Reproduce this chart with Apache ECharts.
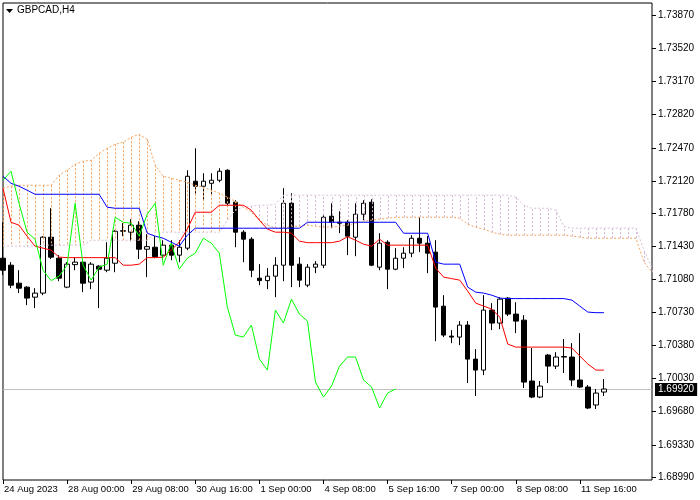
<!DOCTYPE html>
<html>
<head>
<meta charset="utf-8">
<script src="https://cdn.jsdelivr.net/npm/echarts@6/dist/echarts.min.js"></script>
<style>
  html, body { margin: 0; padding: 0; background: #fff; }
  #chart { width: 700px; height: 500px; }
</style>
</head>
<body>
<div id="chart"></div>
<script>
// GBPCAD H4, 24 Aug - 12 Sep 2023, Ichimoku
const symbolTitle = 'GBPCAD,H4';
const xTickLabels = ['24 Aug 2023', '28 Aug 00:00', '29 Aug 08:00', '30 Aug 16:00', '1 Sep 00:00',
  '4 Sep 08:00', '5 Sep 16:00', '7 Sep 00:00', '8 Sep 08:00', '11 Sep 16:00'];
const yTicks = [1.68990, 1.69330, 1.69680, 1.70030, 1.70380, 1.70730, 1.71080, 1.71430,
  1.71780, 1.72120, 1.72470, 1.72820, 1.73170, 1.73520, 1.73870];
const lastPrice = 1.69920;

const opens = [
  1.71303, 1.71229, 1.71039, 1.70997, 1.70891, 1.70934, 1.71525, 1.71303, 1.70997, 1.71235,
  1.71261, 1.71050, 1.71219, 1.71176, 1.71250, 1.71588, 1.71578, 1.71652, 1.71398, 1.71419,
  1.71335, 1.71441, 1.71335, 1.71409, 1.72117, 1.72064, 1.72095, 1.72127, 1.72233, 1.71895,
  1.71578, 1.71504, 1.71092, 1.71066, 1.71113, 1.71229, 1.71884, 1.71240, 1.71018, 1.71208,
  1.71229, 1.71747, 1.71683, 1.71683, 1.71525, 1.71768, 1.71895, 1.71208, 1.71472, 1.71187,
  1.71303, 1.71356, 1.71514, 1.71462, 1.71367, 1.70796, 1.70479, 1.70469, 1.70596, 1.70236,
  1.70120, 1.70754, 1.70617, 1.70881, 1.70712, 1.70648, 1.70004, 1.69835, 1.70279, 1.70162,
  1.70263, 1.70258, 1.70015, 1.69941, 1.69751, 1.69888
];
const closes = [
  1.71176, 1.71018, 1.70986, 1.70881, 1.70934, 1.71525, 1.71314, 1.71092, 1.71240, 1.71261,
  1.71039, 1.71240, 1.71187, 1.71303, 1.71588, 1.71594, 1.71652, 1.71398, 1.71425, 1.71319,
  1.71441, 1.71335, 1.71419, 1.72169, 1.72064, 1.72117, 1.72127, 1.72222, 1.71884, 1.71578,
  1.71504, 1.71176, 1.71066, 1.71113, 1.71229, 1.71884, 1.71229, 1.71071, 1.71208, 1.71240,
  1.71736, 1.71683, 1.71673, 1.71536, 1.71768, 1.71884, 1.71229, 1.71462, 1.71187, 1.71303,
  1.71356, 1.71514, 1.71462, 1.71356, 1.70786, 1.70490, 1.70469, 1.70596, 1.70236, 1.70120,
  1.70754, 1.70617, 1.70870, 1.70712, 1.70638, 1.69993, 1.69835, 1.69951, 1.70162, 1.70258,
  1.70258, 1.70015, 1.69941, 1.69719, 1.69877, 1.69920
];
const lows = [
  1.71124, 1.70986, 1.70934, 1.70807, 1.70775, 1.70912, 1.71293, 1.71060, 1.70986, 1.71176,
  1.70944, 1.70976, 1.70775, 1.71155, 1.71155, 1.71536, 1.71483, 1.71293, 1.71103, 1.71303,
  1.71282, 1.71282, 1.71261, 1.71388, 1.71969, 1.71916, 1.71979, 1.72106, 1.71863, 1.71419,
  1.71261, 1.71103, 1.71018, 1.70976, 1.70891, 1.71060, 1.70997, 1.70997, 1.70997, 1.71145,
  1.71198, 1.71620, 1.71567, 1.71335, 1.71324, 1.71705, 1.71219, 1.71176, 1.70976, 1.71176,
  1.71198, 1.71314, 1.71367, 1.71145, 1.70426, 1.70469, 1.70405, 1.70384, 1.69983, 1.69846,
  1.70067, 1.70543, 1.70553, 1.70691, 1.70511, 1.69930, 1.69824, 1.69824, 1.69983, 1.70131,
  1.70089, 1.69951, 1.69930, 1.69708, 1.69708, 1.69846
];
const highs = [
  1.71683, 1.71261, 1.71176, 1.71007, 1.70986, 1.71536, 1.71831, 1.71335, 1.71261, 1.71314,
  1.71282, 1.71261, 1.71229, 1.71472, 1.71599, 1.71673, 1.71715, 1.71694, 1.71557, 1.71536,
  1.71493, 1.71493, 1.71493, 1.72233, 1.72465, 1.72201, 1.72201, 1.72254, 1.72243, 1.71916,
  1.71599, 1.71525, 1.71240, 1.71198, 1.71314, 1.72043, 1.71990, 1.71314, 1.71240, 1.71272,
  1.71757, 1.71884, 1.71800, 1.71705, 1.71884, 1.71916, 1.71926, 1.71567, 1.71493, 1.71409,
  1.71419, 1.71546, 1.71736, 1.71536, 1.71493, 1.70912, 1.70543, 1.70638, 1.70638, 1.70342,
  1.70912, 1.70828, 1.70891, 1.70891, 1.70838, 1.70701, 1.70353, 1.70004, 1.70289, 1.70310,
  1.70448, 1.70405, 1.70511, 1.69962, 1.69920, 1.70025
];

// Ichimoku lines
const tenkan = [
  1.72043, 1.71683, 1.71652, 1.71536, 1.71430, 1.71409, 1.71388, 1.71314, 1.71309, 1.71309,
  1.71309, 1.71309, 1.71309, 1.71309, 1.71309, 1.71229, 1.71229, 1.71240, 1.71309, 1.71309,
  1.71314, 1.71388, 1.71472, 1.71610, 1.71789, 1.71789, 1.71789, 1.71863, 1.71863, 1.71863,
  1.71863, 1.71810, 1.71705, 1.71610, 1.71578, 1.71578, 1.71567, 1.71483, 1.71467, 1.71467,
  1.71467, 1.71467, 1.71483, 1.71530, 1.71493, 1.71451, 1.71430, 1.71504, 1.71441, 1.71441,
  1.71441, 1.71441, 1.71441, 1.71441, 1.71198, 1.71103, 1.71087, 1.71071, 1.70955, 1.70828,
  1.70796, 1.70765, 1.70680, 1.70395, 1.70363, 1.70363, 1.70363, 1.70363, 1.70363, 1.70363,
  1.70363, 1.70353, 1.70268, 1.70184, 1.70120, 1.70120
];
const kijun = [
  1.72169, 1.72095, 1.72064, 1.72022, 1.71979, 1.71979, 1.71979, 1.71979, 1.71979, 1.71979,
  1.71979, 1.71979, 1.71979, 1.71842, 1.71831, 1.71831, 1.71831, 1.71831, 1.71567, 1.71536,
  1.71514, 1.71472, 1.71430, 1.71546, 1.71620, 1.71620, 1.71620, 1.71620, 1.71620, 1.71620,
  1.71620, 1.71620, 1.71620, 1.71620, 1.71620, 1.71620, 1.71620, 1.71620, 1.71683, 1.71683,
  1.71683, 1.71683, 1.71683, 1.71683, 1.71683, 1.71683, 1.71683, 1.71683, 1.71683, 1.71683,
  1.71567, 1.71567, 1.71567, 1.71567, 1.71261, 1.71240, 1.71240, 1.71240, 1.70997, 1.70944,
  1.70934, 1.70912, 1.70881, 1.70876, 1.70876, 1.70876, 1.70876, 1.70876, 1.70876, 1.70876,
  1.70876, 1.70860, 1.70796, 1.70733, 1.70727, 1.70727
];
const chikou = [
  1.72127, 1.72222, 1.71884, 1.71578, 1.71504, 1.71176, 1.71066, 1.71113, 1.71229, 1.71884,
  1.71229, 1.71071, 1.71208, 1.71240, 1.71736, 1.71683, 1.71673, 1.71536, 1.71768, 1.71884,
  1.71229, 1.71462, 1.71187, 1.71303, 1.71356, 1.71514, 1.71462, 1.71356, 1.70786, 1.70490,
  1.70469, 1.70596, 1.70236, 1.70120, 1.70754, 1.70617, 1.70870, 1.70712, 1.70638, 1.69993,
  1.69835, 1.69951, 1.70162, 1.70258, 1.70258, 1.70015, 1.69941, 1.69719, 1.69877, 1.69920
];
const spanA = [
  1.72043, 1.72064, 1.72074, 1.72074, 1.72074, 1.72074, 1.72074, 1.72180, 1.72233, 1.72296,
  1.72328, 1.72338, 1.72412, 1.72465, 1.72507, 1.72529, 1.72581, 1.72613, 1.72560, 1.72286,
  1.72169, 1.72148, 1.72127, 1.72106, 1.72074, 1.72053, 1.72022, 1.71990, 1.71948, 1.71905,
  1.71842, 1.71789, 1.71705, 1.71652, 1.71620, 1.71620, 1.71641, 1.71641, 1.71652, 1.71641,
  1.71631, 1.71631, 1.71641, 1.71652, 1.71673, 1.71694, 1.71705, 1.71715, 1.71726, 1.71736,
  1.71736, 1.71736, 1.71736, 1.71736, 1.71736, 1.71736, 1.71736, 1.71726, 1.71662, 1.71631,
  1.71610, 1.71578, 1.71557, 1.71546, 1.71546, 1.71546, 1.71546, 1.71546, 1.71546, 1.71546,
  1.71546, 1.71536, 1.71525, 1.71514, 1.71514, 1.71514, 1.71514, 1.71514, 1.71514, 1.71514,
  1.71261, 1.71155
];
const spanB = [
  1.71430, 1.71430, 1.71430, 1.71430, 1.71430, 1.71441, 1.71441, 1.71441, 1.71441, 1.71441,
  1.71441, 1.71493, 1.71493, 1.71493, 1.71493, 1.71493, 1.71493, 1.71493, 1.71493, 1.71578,
  1.71578, 1.71578, 1.71578, 1.71578, 1.71578, 1.71578, 1.71578, 1.71578, 1.71705, 1.71810,
  1.71842, 1.71853, 1.71863, 1.71863, 1.71874, 1.71969, 1.71969, 1.71969, 1.71969, 1.71969,
  1.71969, 1.71969, 1.71969, 1.71969, 1.71969, 1.71969, 1.71969, 1.71969, 1.71969, 1.71969,
  1.71969, 1.71969, 1.71969, 1.71969, 1.71969, 1.71969, 1.71969, 1.71969, 1.71969, 1.71969,
  1.71969, 1.71969, 1.71969, 1.71969, 1.71948, 1.71863, 1.71831, 1.71831, 1.71831, 1.71810,
  1.71641, 1.71620, 1.71620, 1.71620, 1.71620, 1.71620, 1.71620, 1.71620, 1.71620, 1.71620,
  1.71388, 1.71198
];

const categories = spanA.map((_, i) => i);
const candles = opens.map((o, i) => [o, closes[i], lows[i], highs[i]]);
const cloud = spanA.map((a, i) => [i, a, spanB[i]]);
const isLabelIdx = (i) => i % 8 === 0 && i / 8 < xTickLabels.length;
const font = 'Liberation Sans, Arial, sans-serif';

const chart = echarts.init(document.getElementById('chart'));

const option = {
  animation: false,
  textStyle: { fontFamily: font },
  grid: {
    left: 3, right: 48, top: 3, bottom: 20,
    show: true, borderColor: '#000', borderWidth: 1, backgroundColor: '#fff'
  },
  xAxis: {
    type: 'category',
    data: categories,
    boundaryGap: false,
    axisLine: { show: false },
    axisTick: { show: true, interval: isLabelIdx, length: 4, lineStyle: { color: '#000' } },
    axisLabel: {
      interval: isLabelIdx,
      formatter: (v, i) => xTickLabels[i / 8],
      align: 'left',
      margin: 4,
      padding: [0, 0, 0, 1],
      fontSize: 9.5,
      color: '#000'
    },
    splitLine: { show: false }
  },
  yAxis: {
    type: 'value',
    position: 'right',
    min: 1.68958,
    max: 1.74001,
    axisLine: { show: false },
    axisTick: { show: true, customValues: yTicks, length: 4, lineStyle: { color: '#000' } },
    axisLabel: {
      customValues: yTicks,
      formatter: (v) => v.toFixed(5),
      fontSize: 10,
      color: '#000',
      margin: 6
    },
    splitLine: { show: false }
  },
  series: [
    {
      name: 'Senkou Span A',
      type: 'line',
      data: spanA,
      symbol: 'none',
      z: 3,
      lineStyle: { color: '#F4A460', width: 1, type: [2, 2] }
    },
    {
      name: 'Senkou Span B',
      type: 'line',
      data: spanB,
      symbol: 'none',
      z: 3,
      lineStyle: { color: '#D8BFD8', width: 1, type: [2, 2] }
    },
    {
      name: 'Candles',
      type: 'candlestick',
      data: candles,
      barWidth: 5,
      z: 2,
      itemStyle: {
        color: '#fff', color0: '#000',
        borderColor: '#000', borderColor0: '#000', borderWidth: 1
      }
    },
    {
      name: 'Kumo',
      type: 'custom',
      data: cloud,
      z: 3,
      encode: { x: 0, y: [1, 2] },
      renderItem: (params, api) => {
        const k = api.value(0);
        const a = api.value(1);
        const b = api.value(2);
        const p1 = api.coord([k, a]);
        const p2 = api.coord([k, b]);
        const x = Math.round(p1[0]) + 0.5;
        return {
          type: 'line',
          shape: { x1: x, y1: p1[1], x2: x, y2: p2[1] },
          style: { stroke: a >= b ? '#F4A460' : '#D0B4D0', lineWidth: 1, lineDash: [2, 2] }
        };
      }
    },
    {
      name: 'Tenkan-sen',
      type: 'line',
      data: tenkan,
      symbol: 'none',
      z: 4,
      lineStyle: { color: '#FF0000', width: 1 }
    },
    {
      name: 'Kijun-sen',
      type: 'line',
      data: kijun,
      symbol: 'none',
      z: 4,
      lineStyle: { color: '#0000FF', width: 1 }
    },
    {
      name: 'Chikou Span',
      type: 'line',
      data: chikou,
      symbol: 'none',
      z: 4,
      lineStyle: { color: '#00FF00', width: 1 }
    }
  ]
};

chart.setOption(option);

// bid line and price tag, placed through the y scale
const py = Math.round(chart.convertToPixel({ yAxisIndex: 0 }, lastPrice)) + 0.5;
const gridRect = chart.getModel().getComponent('grid').coordinateSystem.getRect();
chart.setOption({
  graphic: [
    { type: 'polygon', shape: { points: [[6, 9], [13, 9], [9.5, 13]] }, style: { fill: '#000' } },
    { type: 'text', left: 17, top: 5, style: { text: symbolTitle, fill: '#000', font: '10px ' + font } },
    {
      type: 'line', z: 1,
      shape: { x1: gridRect.x, y1: py, x2: gridRect.x + gridRect.width, y2: py },
      style: { stroke: '#C0C0C0', lineWidth: 1 }
    },
    {
      type: 'text', z: 10,
      x: gridRect.x + gridRect.width + 3, y: py,
      style: {
        text: lastPrice.toFixed(5), fill: '#fff', backgroundColor: '#000',
        padding: [2, 3, 1, 3], font: '10px ' + font, verticalAlign: 'middle'
      }
    }
  ]
});
</script>
</body>
</html>
